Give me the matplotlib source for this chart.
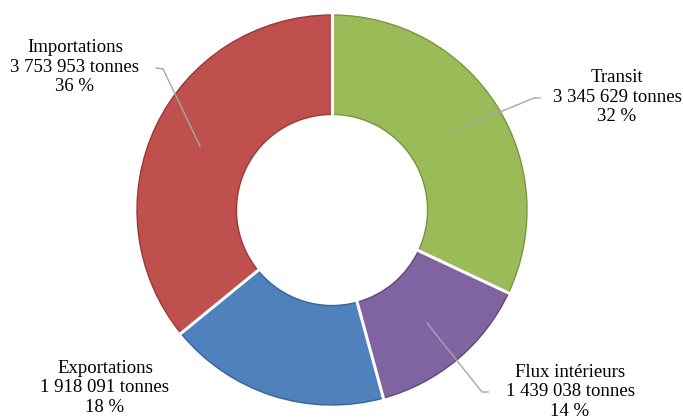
import numpy as np
import matplotlib
matplotlib.use("Agg")
import matplotlib.pyplot as plt

# -----------------------------
# 데이터
# -----------------------------
labels = ["Transit", "Flux intérieurs", "Exportations", "Importations"]
tonnes = [3345629, 1439038, 1918091, 3753953]
percents = [32, 14, 18, 36]
colors = ["#9BBB59", "#8064A2", "#4F81BD", "#C0504D"]
edges = ["#7A9440", "#5E4880", "#3A6494", "#963A38"]

W, H = 683, 420
CX, CY, R = 332, 210, 195


def px(x, y):
    # pixel (top-left origin) -> data units
    return (x - CX) / R, (CY - y) / R


fig = plt.figure(figsize=(W / 100, H / 100), dpi=100)
ax = fig.add_axes([0, 0, 1, 1])

wedges, _ = ax.pie(
    tonnes,
    colors=colors,
    startangle=90,
    counterclock=False,
    radius=1,
    wedgeprops=dict(width=0.51, linewidth=1.0),
)
for w, ec in zip(wedges, edges):
    w.set_edgecolor(ec)

# pie() 가 축 범위를 바꾸므로 이후에 설정
ax.set_xlim(-CX / R, (W - CX) / R)
ax.set_ylim(-(H - CY) / R, CY / R)
ax.set_aspect("equal")
ax.axis("off")

# 흰색 구분선
ang = 90 - np.cumsum([0] + tonnes[:-1]) / sum(tonnes) * 360
for a in ang:
    t = np.deg2rad(a)
    ax.plot([0.48 * np.cos(t), 1.01 * np.cos(t)],
            [0.48 * np.sin(t), 1.01 * np.sin(t)],
            color="white", lw=2.2, solid_capstyle="butt", zorder=3)

# -----------------------------
# 라벨
# -----------------------------
label_pos = [(617, 97), (570, 392), (105, 388), (75, 67)]
leaders = [
    [(456, 130), (534, 98), (540, 98)],
    [(427, 323), (482, 392), (488, 392)],
    None,
    [(200, 146), (163, 69), (156, 68)],
]

font = dict(family=["Liberation Serif", "DejaVu Serif"], fontsize=13.5)
for lab, t, p, pos, ld in zip(labels, tonnes, percents, label_pos, leaders):
    x, y = px(*pos)
    t_str = f"{t:,}".replace(",", " ")
    ax.text(x, y, f"{lab}\n{t_str} tonnes\n{p} %", ha="center", va="center",
            linespacing=1.22, color="black", **font)
    if ld:
        xs, ys = zip(*[px(*q) for q in ld])
        ax.plot(xs, ys, color="#A6A6A6", lw=1.0, zorder=4)

fig.savefig("out.png", dpi=100, facecolor="white")
